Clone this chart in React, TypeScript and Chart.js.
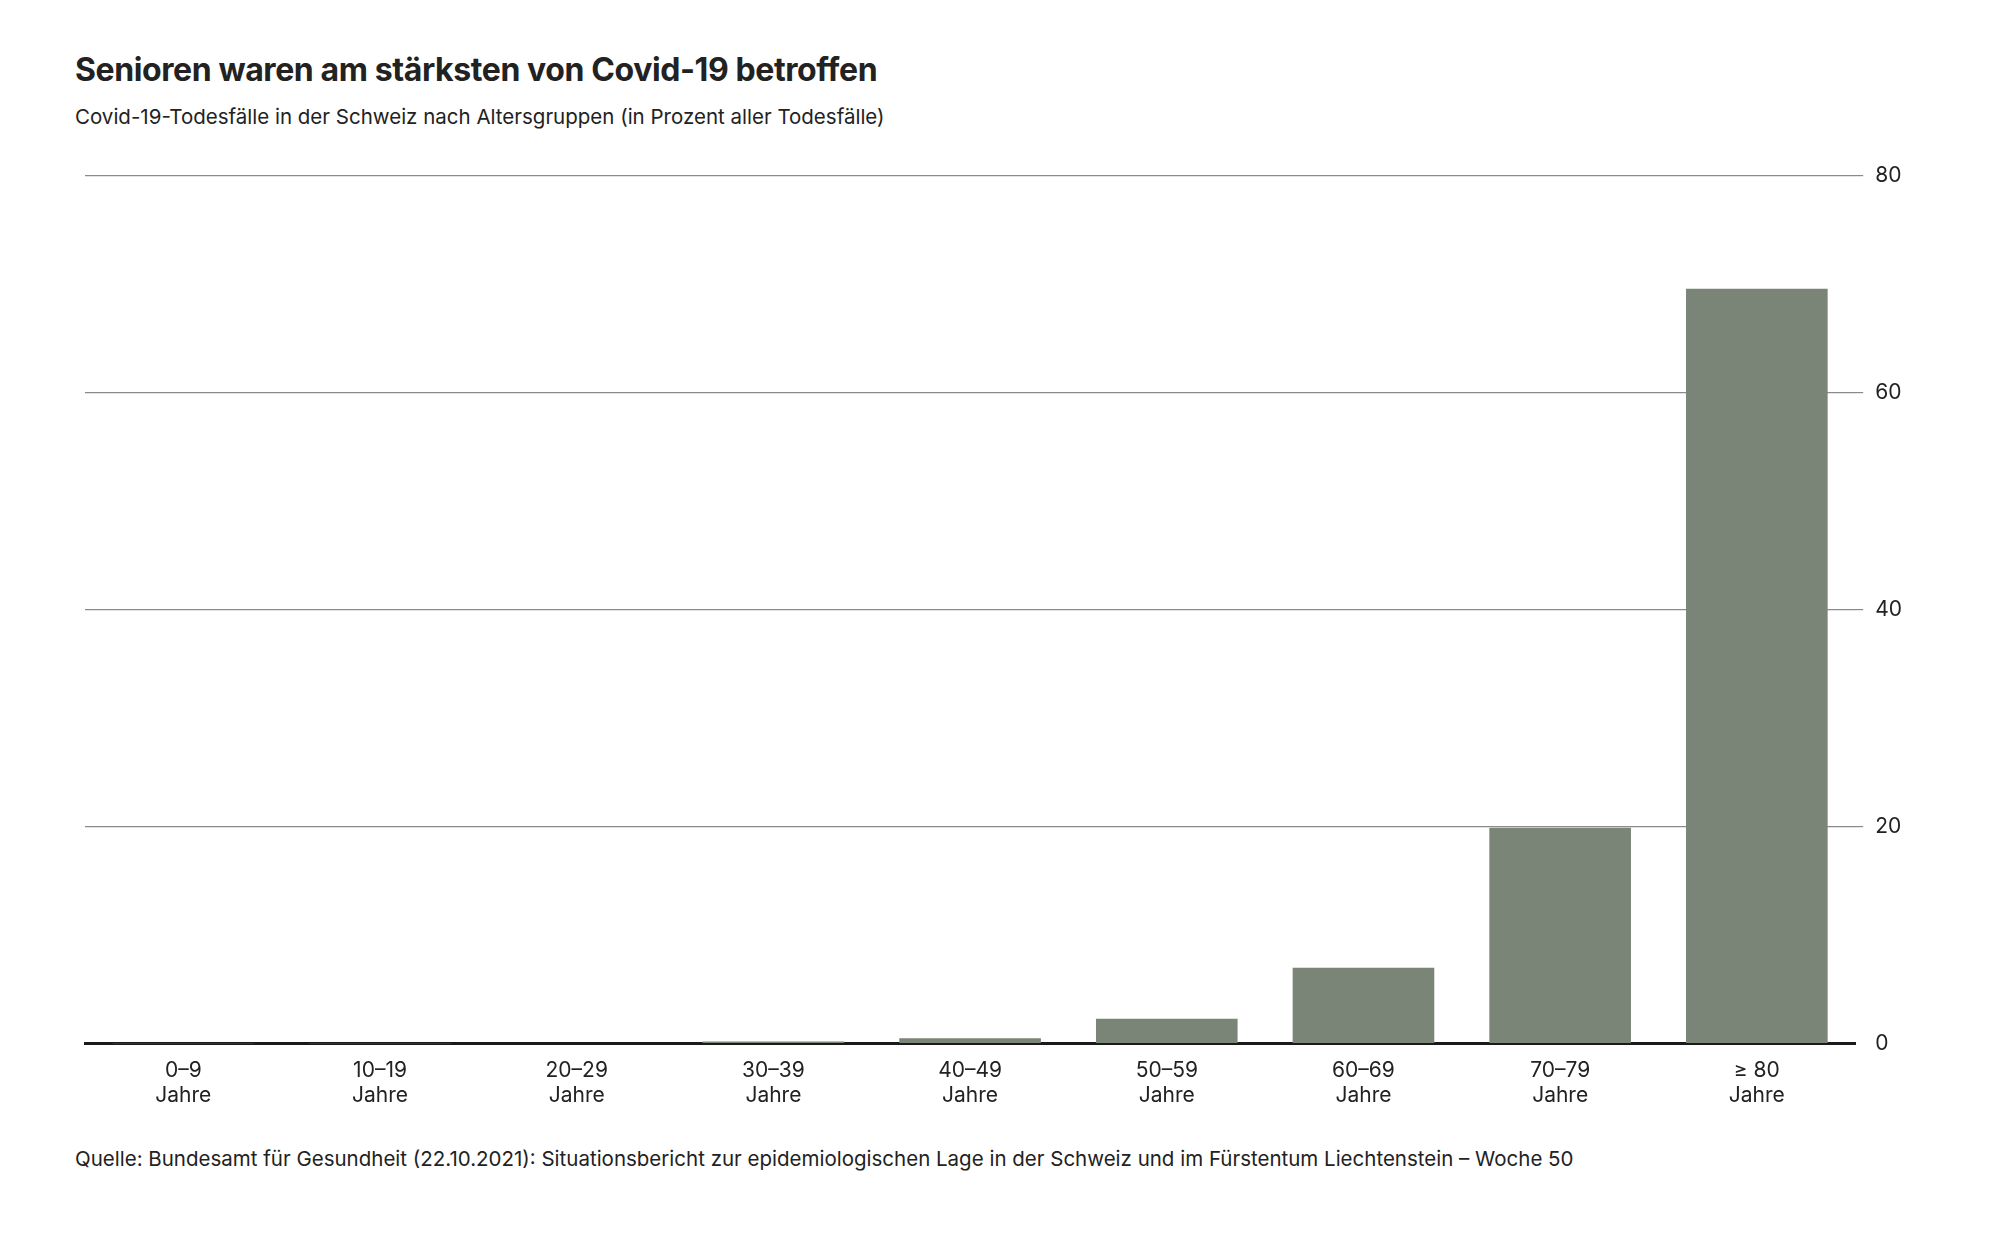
import React, { useEffect, useRef } from "react";
import { Chart, registerables } from "chart.js";
Chart.register(...registerables);

const categories = ["0–9", "10–19", "20–29", "30–39", "40–49", "50–59", "60–69", "70–79", "≥ 80"];
const values = [0.01, 0.01, 0.05, 0.2, 0.5, 2.3, 7.0, 19.9, 69.6];
const yTicks = [0, 20, 40, 60, 80];

const FONT = "Inter, 'Noto Sans', sans-serif";

export default function App() {
  const ref = useRef<HTMLCanvasElement>(null);
  useEffect(() => {
    const chart = new Chart(ref.current!, {
      type: "bar",
      data: {
        labels: categories.map((c) => [c, "Jahre"]),
        datasets: [{ data: values, backgroundColor: "#7a8477", barPercentage: 0.72, categoryPercentage: 1 }],
      },
      options: {
        animation: false,
        responsive: false,
        maintainAspectRatio: false,
        layout: { padding: { left: 85, top: 26, right: 86, bottom: 0 } },
        plugins: { legend: { display: false }, tooltip: { enabled: false } },
        scales: {
          x: {
            grid: { display: false },
            border: { color: "#1a1a1a", width: 3 },
            ticks: { color: "#222", font: { family: FONT, size: 21 }, padding: 6, maxRotation: 0 },
          },
          y: {
            position: "right",
            min: 0,
            max: 80,
            afterBuildTicks: (ax: any) => { ax.ticks = yTicks.map((v) => ({ value: v })); },
            grid: {
              color: (c: any) => (c.tick && c.tick.value === 0 ? "rgba(0,0,0,0)" : "#8a8a8a"),
              lineWidth: 1.2,
              tickLength: 8,
            },
            border: { display: false },
            ticks: { color: "#222", font: { family: FONT, size: 21 }, padding: 12 },
          },
        },
      },
    });
    return () => chart.destroy();
  }, []);
  return (
    <div style={{ position: "absolute", left: 0, top: 0, width: 2000, height: 1246, background: "#fff", fontFamily: FONT, color: "#222" }}>
      <div style={{ position: "absolute", left: 75, top: 50, fontSize: 32, fontWeight: 700, letterSpacing: -0.4 }}>
        Senioren waren am stärksten von Covid-19 betroffen
      </div>
      <div style={{ position: "absolute", left: 75, top: 104, fontSize: 20.5 }}>
        Covid-19-Todesfälle in der Schweiz nach Altersgruppen (in Prozent aller Todesfälle)
      </div>
      <canvas ref={ref} width={2000} height={964} style={{ position: "absolute", left: 0, top: 150, width: 2000, height: 964 }} />
      <div style={{ position: "absolute", left: 75, top: 1146, fontSize: 20.5 }}>
        Quelle: Bundesamt für Gesundheit (22.10.2021): Situationsbericht zur epidemiologischen Lage in der Schweiz und im Fürstentum Liechtenstein – Woche 50
      </div>
    </div>
  );
}
